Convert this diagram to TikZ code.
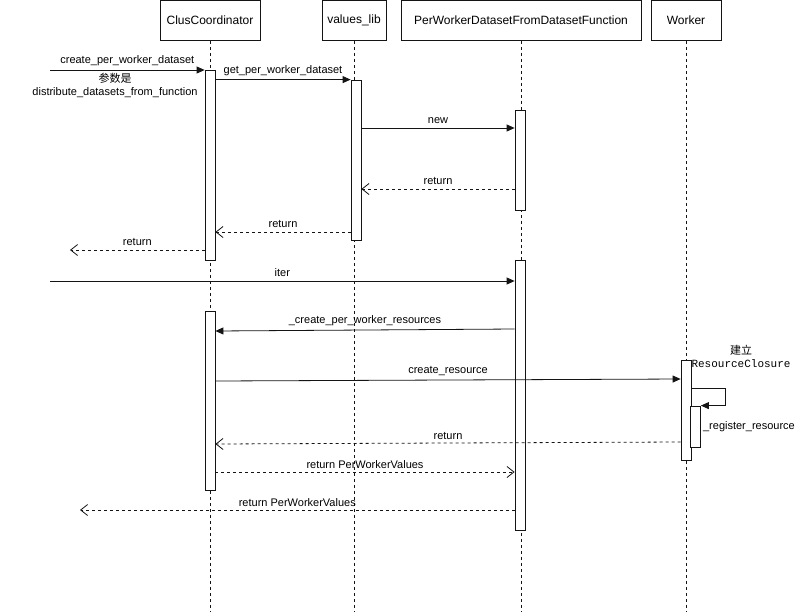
\documentclass[tikz,border=0pt]{standalone}
\usepackage{fontspec}
\setmainfont{Liberation Sans}
\setmonofont{Liberation Mono}
\newfontfamily\cjk{Noto Sans CJK SC}
\usepackage{tikz}
\usetikzlibrary{positioning, arrows.meta, calc}
\definecolor{seqline}{RGB}{20, 20, 20}

\tikzset{
  head/.style={draw=seqline, line width=0.8pt, minimum height=40, inner sep=0pt,
               font=\fontsize{12}{14}\selectfont},
  life/.style={draw=seqline, line width=0.8pt, dash pattern=on 3pt off 3pt},
  bar/.style={draw=seqline, fill=white, line width=0.8pt, minimum width=10,
              inner sep=0pt},
  msg/.style={draw=seqline, line width=0.8pt, -{Triangle[length=8pt,width=7pt]}},
  ret/.style={draw=seqline, line width=0.8pt, dash pattern=on 3pt off 3pt,
              -{Straight Barb[length=7pt,width=11pt]}},
  lbl/.style={font=\fontsize{11}{13}\selectfont, inner sep=3.5pt},
}

\begin{document}
\begin{tikzpicture}[x=1pt, y=-1pt]
  \useasboundingbox[fill=white] (0,0) rectangle (797,611);

  % lifelines
  \node[head, minimum width=100] (cc) at (210,20.5) {ClusCoordinator};
  \node[head, minimum width=64]  (vl) at (354,20.5) {values\_lib};
  \node[head, minimum width=240] (pw) at (521,20.5) {PerWorkerDatasetFromDatasetFunction};
  \node[head, minimum width=70]  (wk) at (686,20.5) {Worker};
  \foreach \p in {cc, vl, pw, wk}
    \draw[life] (\p.south) -- (\p.south |- 0,611);

  % activations
  \node[bar, minimum height=190] (cc1) at (210,165) {};
  \node[bar, minimum height=160] (vl1) at (356,160) {};
  \node[bar, minimum height=100] (pw1) at (520,160) {};
  \node[bar, minimum height=270] (pw2) at (520,395) {};
  \node[bar, minimum height=179] (cc2) at (210,400.5) {};
  \node[bar, minimum height=100] (wk1) at (686,410) {};
  \node[bar, minimum height=41]  (wk2) at (695.5,426.5) {};

  \coordinate (in1) at (50,70);
  \coordinate (out1) at (70,250);
  \coordinate (in2) at (50,281);
  \coordinate (out2) at (80,510);
  \coordinate (loop) at (725,388);

  % messages
  \draw[msg] (in1) -- (cc1.west |- in1) node[lbl, midway, above] {create\_per\_worker\_dataset};
  \node[lbl, align=center, inner sep=0pt] (note) at (115,85) {{\cjk 参数是}\\distribute\_datasets\_from\_function};
  \draw[msg] (cc1.east |- vl1.north) -- (vl1.north west) node[lbl, midway, above] {get\_per\_worker\_dataset};
  \draw[msg] (vl1.east |- 0,128) -- (pw1.west |- 0,128) node[lbl, midway, above] {new};
  \draw[ret] (pw1.west |- 0,189) -- (vl1.east |- 0,189) node[lbl, midway, above] {return};
  \draw[ret] (vl1.west |- 0,232) -- (cc1.east |- 0,232) node[lbl, midway, above] {return};
  \draw[ret] (cc1.west |- out1) -- (out1) node[lbl, midway, above] {return};

  \draw[msg] (in2) -- (pw2.west |- in2) node[lbl, midway, above] {iter};
  \draw[msg] (pw2.west |- 0,329) -- (cc2.east |- 0,331) node[lbl, midway, above] {\_create\_per\_worker\_resources};
  \draw[msg] (cc2.east |- 0,381) -- (wk1.west |- 0,379) node[lbl, midway, above] {create\_resource};
  \node[lbl, align=center, inner sep=0pt] (rc) at (741,356) {{\cjk 建立}\\\texttt{ResourceClosure}};
  \draw[msg] (wk1.east |- loop) -- (loop) |- (wk2.north east);
  \node[lbl, right, inner sep=2pt] (reg) at (wk2.east) {\_register\_resource};
  \draw[ret] (wk1.west |- 0,442) -- (cc2.east |- 0,444) node[lbl, midway, above] {return};
  \draw[ret] (cc2.east |- 0,472) -- (pw2.west |- 0,472) node[lbl, midway, above] {return PerWorkerValues};
  \draw[ret] (pw2.west |- out2) -- (out2) node[lbl, midway, above] {return PerWorkerValues};
\end{tikzpicture}
\end{document}
